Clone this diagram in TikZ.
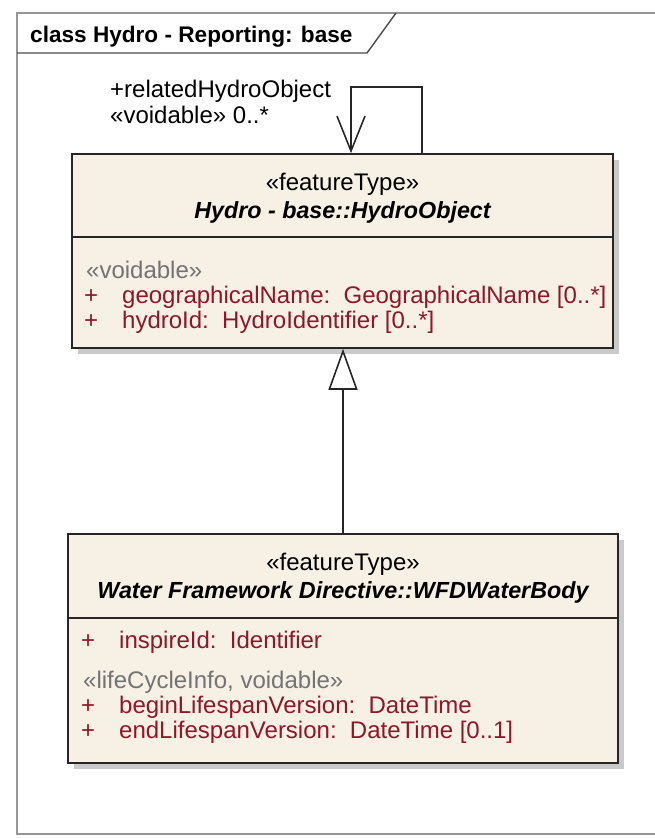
\documentclass[tikz,border=0pt]{standalone}
\usepackage{fontspec}
\setmainfont{Liberation Sans}
\usetikzlibrary{arrows.meta,shadows}

\definecolor{umlfill}{RGB}{246,240,229}
\definecolor{umlattr}{RGB}{140,24,40}
\definecolor{umlster}{RGB}{115,115,115}
\definecolor{umlframe}{RGB}{150,150,150}

\newcommand{\attrrow}[1]{\makebox[38pt][l]{+}#1}

\begin{document}
\begin{tikzpicture}[
    x=1pt, y=-1pt,
    every node/.style={font=\fontsize{24}{28}\selectfont, inner sep=0pt},
    classbox/.style={draw=black!85, line width=1.6pt, fill=umlfill,
        drop shadow={shadow xshift=6pt, shadow yshift=-6pt, fill=black!35, opacity=.6}},
    head/.style={anchor=base},
    headname/.style={anchor=base, font=\fontsize{23.3}{28}\selectfont\bfseries\itshape},
    attr/.style={anchor=base west, text=umlattr},
    ster/.style={anchor=base west, text=umlster},
    conn/.style={line width=1.6pt, draw=black!85}
]

\useasboundingbox (0,0) rectangle (655,838);

% ================= Cadre =================

\draw[umlframe, line width=2pt] (655,13) -- (17,13) -- (17,834) -- (655,834);
\draw[black!70, line width=1.4pt] (17,53) -- (367,53) -- (396,13);
\node[anchor=base west, font=\fontsize{22.6}{28}\selectfont\bfseries] (frameTitle) at (30,42)
    {class Hydro - Reporting: base};

% ================= HydroObject =================

\node[classbox, minimum width=541pt, minimum height=194pt] (hydro) at (342.5,251) {};
\draw[conn] ([yshift=-84pt]hydro.north west) -- ([yshift=-84pt]hydro.north east);

\node[head]     (hydroSter) at (342.5,190) {«featureType»};
\node[headname] (hydroName) at (342.5,218) {Hydro - base::HydroObject};

\node[ster] (hydroVoid) at (86,278) {«voidable»};
\node[attr] (geoName)   at (84,303) {\attrrow{geographicalName:\ \ GeographicalName [0..*]}};
\node[attr] (hydroId)   at (84,328) {\attrrow{hydroId:\ \ HydroIdentifier [0..*]}};

% ================= WFDWaterBody =================

\node[classbox, minimum width=550pt, minimum height=229pt] (wfd) at (343,648.5) {};
\draw[conn] ([yshift=-85pt]wfd.north west) -- ([yshift=-85pt]wfd.north east);

\node[head]     (wfdSter) at (343,570) {«featureType»};
\node[headname] (wfdName) at (343,598) {Water Framework Directive::WFDWaterBody};

\node[attr] (inspireId) at (81,648) {\attrrow{inspireId:\ \ Identifier}};
\node[ster] (wfdLife)   at (83,688) {«lifeCycleInfo, voidable»};
\node[attr] (beginLife) at (81,713) {\attrrow{beginLifespanVersion:\ \ DateTime}};
\node[attr] (endLife)   at (81,738) {\attrrow{endLifespanVersion:\ \ DateTime [0..1]}};

% ================= Associations =================

\draw[conn, -{Straight Barb[length=35pt, width=28pt]}]
    ([xshift=79.5pt]hydro.north) -- ++(0,-66) -| ([xshift=8.5pt]hydro.north);
\node[anchor=base west] (roleName) at (110,97)  {+relatedHydroObject};
\node[anchor=base west] (roleMult) at (110,123) {«voidable» 0..*};

\draw[conn, -{Triangle[length=41pt, width=29pt, fill=white]}]
    (wfd.north) -- (wfd.north |- hydro.south);

\end{tikzpicture}
\end{document}
